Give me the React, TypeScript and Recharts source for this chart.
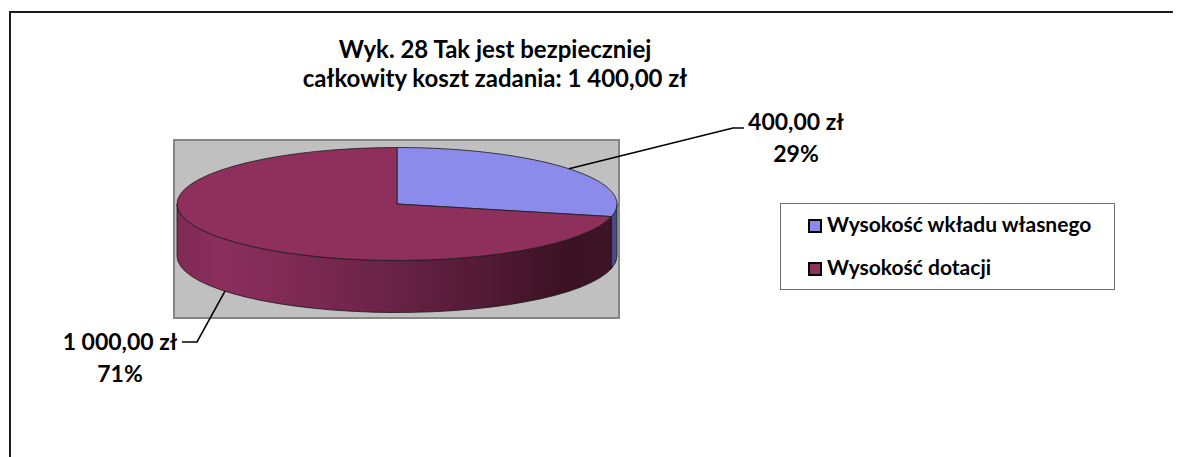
import React from 'react';
import { PieChart, Pie, Cell, Legend } from 'recharts';

// ---- data ----
const categories = ['Wysokość wkładu własnego', 'Wysokość dotacji'];
const values = [400, 1000];
const titleLines = ['Wyk. 28 Tak jest bezpieczniej', 'całkowity koszt zadania: 1 400,00 zł'];

// ---- style ----
const topColors = ['#8B8BEB', '#8E2F5C'];
const FONT = 'Lato, "Open Sans", sans-serif';
const K = 56.5 / 220; // vertical flattening of the 3D pie
const DEPTH = 52; // thickness of the pie
const RAD = Math.PI / 180;
// label layout offsets relative to pie centre (elbow, end of leader, text centre, baselines)
const labelLayout = [
  { ex: 336, ey: -76, hx: 347, tx: 399, ty1: -74, ty2: -42 },
  { ex: -200, ey: 138, hx: -215, tx: -277, ty1: 146, ty2: 178 },
];

const data = categories.map((name, i) => ({ name, value: values[i] }));

const formatZl = (v: number) => {
  const [int, dec] = v.toFixed(2).split('.');
  const withSpaces = int.replace(/\B(?=(\d{3})+(?!\d))/g, ' ');
  return `${withSpaces},${dec} zł`;
};

const pt = (cx: number, cy: number, R: number, a: number, dy = 0): [number, number] => [
  cx + R * Math.cos(a * RAD),
  cy - R * K * Math.sin(a * RAD) + dy,
];

const renderSlice = (props: any) => {
  const { cx, cy, outerRadius: R, startAngle, endAngle, midAngle, index, value, percent } = props;
  const hi = Math.max(startAngle, endAngle);
  const lo = Math.min(startAngle, endAngle);
  const [x1, y1] = pt(cx, cy, R, hi);
  const [x2, y2] = pt(cx, cy, R, lo);
  const large = hi - lo > 180 ? 1 : 0;
  const top = `M${cx},${cy} L${x1},${y1} A${R},${R * K} 0 ${large} 1 ${x2},${y2} Z`;

  const sides: string[] = [];
  for (let k = -2; k <= 1; k++) {
    const s = Math.min(hi, 360 * k);
    const e = Math.max(lo, -180 + 360 * k);
    if (s > e) {
      const [sx, sy] = pt(cx, cy, R, s);
      const [exx, eyy] = pt(cx, cy, R, e);
      sides.push(
        `M${sx},${sy} A${R},${R * K} 0 0 1 ${exx},${eyy} L${exx},${eyy + DEPTH} A${R},${R * K} 0 0 0 ${sx},${sy + DEPTH} Z`
      );
    }
  }

  const front = Math.sin(midAngle * RAD) < 0;
  const [ax, ay] = pt(cx, cy, R, midAngle, front ? DEPTH : 0);
  const L = labelLayout[index];
  const gid = `side-grad-${index}`;
  const pct = `${Math.round(percent * 100)}%`;

  return (
    <g key={`slice-${index}`}>
      <defs>
        {index === 1 ? (
          <linearGradient id={gid} gradientUnits="userSpaceOnUse" x1={cx - R} y1={0} x2={cx + R} y2={0}>
            <stop offset="0%" stopColor="#7e2954" />
            <stop offset="10%" stopColor="#8c2f5c" />
            <stop offset="40%" stopColor="#72264c" />
            <stop offset="70%" stopColor="#521a35" />
            <stop offset="88%" stopColor="#3b1223" />
            <stop offset="100%" stopColor="#3e1427" />
          </linearGradient>
        ) : (
          <linearGradient id={gid} gradientUnits="userSpaceOnUse" x1={cx - R} y1={0} x2={cx + R} y2={0}>
            <stop offset="0%" stopColor="#6a6fb0" />
            <stop offset="100%" stopColor="#464b80" />
          </linearGradient>
        )}
      </defs>
      {sides.map((d, i) => (
        <path key={i} d={d} fill={`url(#${gid})`} stroke="#1a1a1a" strokeWidth={0.8} />
      ))}
      <path d={top} fill={topColors[index]} stroke="#1a1a1a" strokeWidth={0.8} strokeLinejoin="round" />
      <polyline
        points={`${ax},${ay} ${cx + L.ex},${cy + L.ey} ${cx + L.hx},${cy + L.ey}`}
        fill="none"
        stroke="#000"
        strokeWidth={1.6}
      />
      <text x={cx + L.tx} y={cy + L.ty1} textAnchor="middle" fontFamily={FONT} fontWeight={700} fontSize={23} fill="#000">
        {formatZl(value)}
      </text>
      <text x={cx + L.tx} y={cy + L.ty2} textAnchor="middle" fontFamily={FONT} fontWeight={700} fontSize={23} fill="#000">
        {pct}
      </text>
    </g>
  );
};

const LegendBox = (props: any) => {
  const payload = [...(props.payload || [])].sort(
    (a: any, b: any) => categories.indexOf(a.value) - categories.indexOf(b.value)
  );
  return (
    <svg width={335} height={87} style={{ display: 'block' }}>
      <rect x={0.5} y={0.5} width={334} height={86} fill="#fff" stroke="#6e6e6e" strokeWidth={1} />
      {payload.map((p: any, i: number) => (
        <g key={i}>
          <rect x={29} y={17 + i * 43} width={12} height={12} fill={p.color} stroke="#000" strokeWidth={2} />
          <text x={47} y={29 + i * 43} fontFamily={FONT} fontWeight={700} fontSize={21} fill="#000">
            {p.value}
          </text>
        </g>
      ))}
    </svg>
  );
};

export default function App() {
  return (
    <div style={{ position: 'relative', width: 1173, height: 449, overflow: 'hidden', background: '#fff' }}>
      <div
        style={{
          position: 'absolute',
          left: 1,
          top: 3,
          width: 1300,
          height: 600,
          borderTop: '2px solid #1c1c1c',
          borderLeft: '2px solid #1c1c1c',
        }}
      />
      <div
        style={{
          position: 'absolute',
          left: 165,
          top: 131,
          width: 447,
          height: 180,
          boxSizing: 'border-box',
          background: '#C0C0C0',
          border: '2px solid #858585',
        }}
      />
      <div style={{ position: 'absolute', left: 0, top: 0 }}>
        <PieChart width={1173} height={449} margin={{ top: 0, right: 0, bottom: 0, left: 0 }}>
          <Pie
            data={data}
            dataKey="value"
            nameKey="name"
            cx={389}
            cy={196}
            outerRadius={220}
            startAngle={90}
            endAngle={-270}
            isAnimationActive={false}
            fillOpacity={0}
            stroke="none"
            label={renderSlice}
            labelLine={false}
          >
            {data.map((d, i) => (
              <Cell key={d.name} fill={topColors[i]} />
            ))}
          </Pie>
          <Legend
            layout="vertical"
            align="right"
            verticalAlign="middle"
            content={<LegendBox />}
            wrapperStyle={{ left: 772, top: 195, right: 'auto', bottom: 'auto', width: 335, height: 87 }}
          />
        </PieChart>
      </div>
      <svg width={1173} height={449} style={{ position: 'absolute', left: 0, top: 0, pointerEvents: 'none' }}>
        {titleLines.map((t, i) => (
          <text
            key={i}
            x={487}
            y={50 + i * 29}
            textAnchor="middle"
            fontFamily={FONT}
            fontWeight={700}
            fontSize={24}
            fill="#000"
          >
            {t}
          </text>
        ))}
      </svg>
    </div>
  );
}
